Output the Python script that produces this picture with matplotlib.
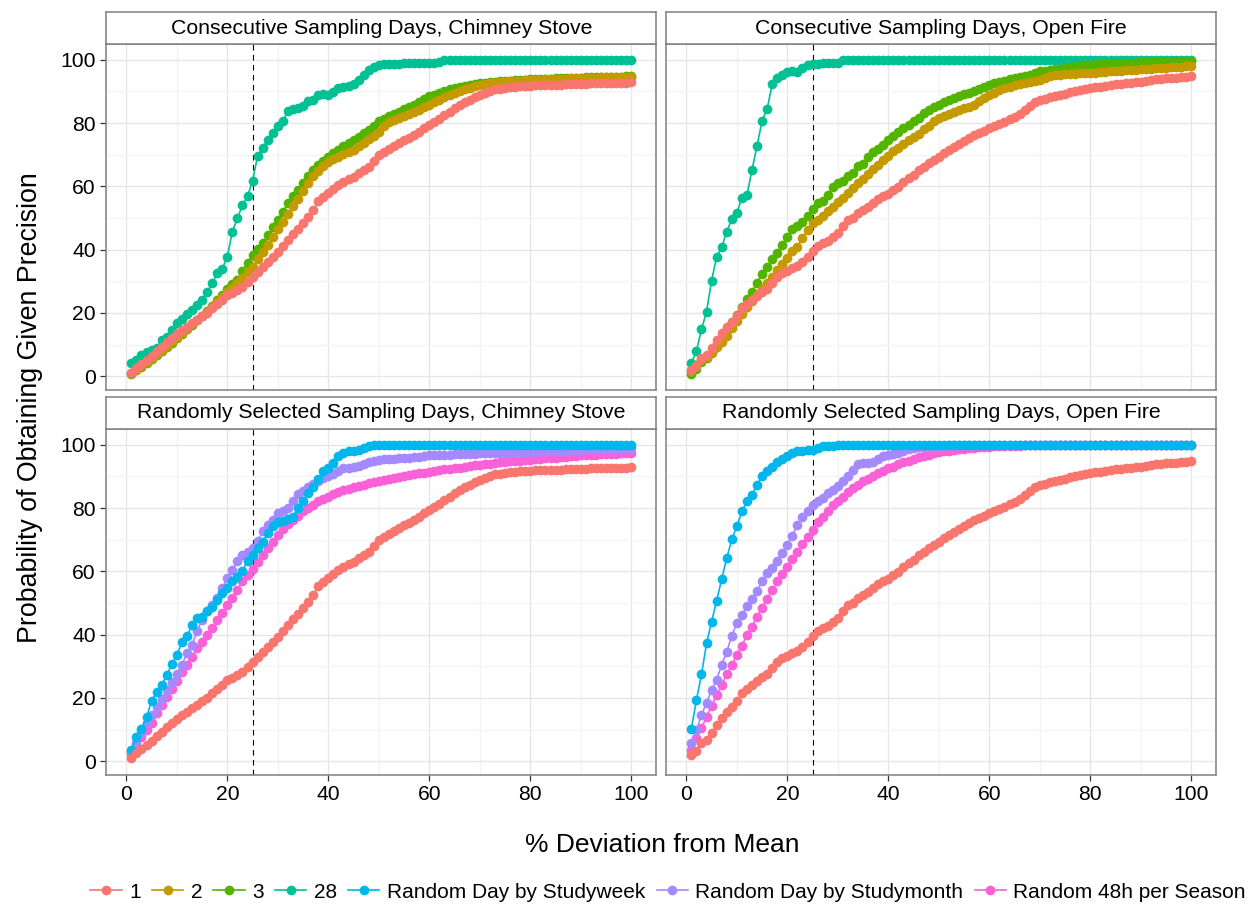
import matplotlib

matplotlib.use("Agg")
import matplotlib.pyplot as plt  # noqa: E402
from matplotlib.lines import Line2D  # noqa: E402

plt.rcParams["font.family"] = ["Liberation Sans", "DejaVu Sans"]

# % deviation from mean (x) shared by every series
deviation = list(range(1, 101))

# chimney stove, consecutive days
cs_1 = [1.1, 2.5, 3.9, 5.2, 6.5, 7.8, 9.3, 10.7, 12.0, 13.3,
        14.5, 15.6, 16.7, 17.8, 18.9, 20.1, 21.4, 22.8, 24.2, 25.6,
        26.4, 27.2, 28.1, 29.9, 31.4, 33.0, 34.6, 36.2, 37.8, 39.3,
        41.2, 43.0, 44.8, 46.6, 48.3, 50.4, 52.5, 55.2, 56.6, 57.8,
        59.1, 60.4, 61.3, 62.2, 63.0, 64.1, 65.2, 66.2, 68.1, 70.0,
        70.9, 71.8, 72.7, 73.6, 74.5, 75.4, 76.3, 77.2, 78.3, 79.4,
        80.4, 81.4, 82.5, 83.6, 84.7, 85.6, 86.5, 87.3, 88.1, 88.9,
        89.5, 90.1, 90.7, 90.9, 91.1, 91.3, 91.5, 91.6, 91.7, 91.8,
        91.9, 91.9, 92.0, 92.0, 92.1, 92.1, 92.2, 92.2, 92.3, 92.4,
        92.4, 92.5, 92.5, 92.6, 92.6, 92.7, 92.7, 92.8, 92.8, 92.9]
cs_2 = [0.9, 2.0, 3.2, 4.4, 5.7, 7.0, 8.3, 9.6, 11.0, 12.4,
        13.8, 15.2, 16.5, 17.8, 19.0, 20.4, 21.8, 23.3, 24.9, 26.5,
        28.0, 29.5, 31.0, 32.8, 34.6, 36.9, 39.2, 41.6, 44.0, 46.4,
        48.6, 51.2, 53.7, 56.0, 58.6, 61.0, 63.2, 64.8, 66.3, 67.6,
        68.5, 69.4, 70.2, 70.9, 71.6, 72.6, 73.7, 74.8, 76.0, 77.3,
        79.0, 80.3, 80.9, 81.5, 82.1, 82.8, 83.5, 84.2, 85.0, 85.7,
        86.5, 87.3, 88.1, 88.8, 89.5, 90.1, 90.7, 91.2, 91.6, 92.0,
        92.3, 92.6, 92.8, 93.0, 93.1, 93.2, 93.3, 93.4, 93.5, 93.6,
        93.7, 93.7, 93.8, 93.8, 93.9, 94.0, 94.0, 94.1, 94.1, 94.2,
        94.2, 94.3, 94.3, 94.4, 94.4, 94.4, 94.5, 94.5, 94.5, 94.6]
cs_3 = [0.8, 1.9, 3.0, 4.2, 5.4, 6.6, 7.9, 9.2, 10.6, 12.0,
        13.4, 14.8, 16.2, 17.6, 19.0, 20.6, 22.3, 24.0, 25.7, 27.5,
        29.0, 30.4, 33.2, 35.8, 38.3, 40.2, 42.0, 44.5, 47.0, 49.4,
        52.0, 54.6, 56.8, 58.9, 61.0, 63.1, 65.2, 66.6, 68.0, 69.4,
        70.5, 71.6, 72.6, 73.6, 74.7, 75.7, 76.8, 77.8, 79.2, 80.5,
        81.3, 82.1, 82.8, 83.5, 84.3, 85.0, 85.8, 86.6, 87.5, 88.4,
        89.0, 89.6, 90.1, 90.6, 91.0, 91.3, 91.6, 91.9, 92.2, 92.6,
        92.8, 93.0, 93.1, 93.2, 93.3, 93.4, 93.5, 93.6, 93.7, 93.8,
        93.9, 93.9, 94.0, 94.0, 94.1, 94.1, 94.2, 94.2, 94.3, 94.3,
        94.4, 94.4, 94.5, 94.5, 94.5, 94.6, 94.6, 94.6, 94.7, 94.7]
cs_28 = [4.2, 5.1, 6.6, 7.7, 8.2, 8.8, 11.4, 12.4, 14.6, 16.7,
         18.2, 19.8, 20.9, 22.5, 24.0, 26.7, 29.3, 32.5, 34.0, 37.8,
         45.7, 49.9, 54.1, 56.8, 61.8, 69.6, 72.0, 74.7, 77.0, 78.9,
         80.5, 83.9, 84.4, 84.7, 85.4, 86.8, 87.3, 88.9, 89.1, 88.9,
         89.7, 91.0, 91.4, 91.8, 92.3, 93.7, 95.3, 96.6, 97.7, 98.4,
         98.6, 98.7, 98.8, 98.8, 98.9, 98.9, 98.9, 98.9, 99.0, 99.0,
         99.1, 99.3, 100, 100, 100, 100, 100, 100, 100, 100,
         100, 100, 100, 100, 100, 100, 100, 100, 100, 100,
         100, 100, 100, 100, 100, 100, 100, 100, 100, 100,
         100, 100, 100, 100, 100, 100, 100, 100, 100, 100]

# open fire, consecutive days
of_1 = [2.1, 3.2, 5.6, 6.6, 9.0, 11.4, 13.5, 15.6, 17.2, 19.0,
        21.4, 22.8, 24.1, 25.3, 26.7, 27.7, 29.3, 31.4, 32.7, 33.3,
        34.1, 34.8, 36.2, 37.8, 39.6, 41.1, 42.0, 42.8, 43.9, 45.1,
        47.5, 49.4, 49.9, 51.7, 52.5, 53.6, 54.6, 55.9, 56.8, 57.6,
        58.9, 59.9, 61.5, 62.6, 63.6, 65.0, 66.2, 67.5, 68.4, 69.4,
        70.5, 71.6, 72.5, 73.3, 74.2, 75.3, 76.2, 76.9, 77.6, 78.4,
        79.1, 79.8, 80.4, 81.2, 82.0, 82.7, 84.0, 85.4, 86.5, 87.3,
        87.7, 88.2, 88.6, 88.9, 89.3, 89.7, 90.1, 90.5, 90.8, 91.0,
        91.3, 91.5, 91.8, 92.0, 92.2, 92.4, 92.5, 92.7, 92.9, 93.1,
        93.3, 93.6, 93.9, 94.0, 94.1, 94.2, 94.3, 94.4, 94.6, 94.7]
of_2 = [1.7, 3.5, 5.1, 6.1, 7.2, 9.1, 10.9, 12.7, 15.2, 17.5,
        19.8, 21.9, 23.8, 25.6, 27.4, 29.3, 31.4, 33.5, 35.4, 37.2,
        39.7, 40.9, 43.6, 46.2, 48.3, 49.4, 50.6, 52.3, 53.6, 54.9,
        56.2, 57.8, 59.4, 61.0, 62.2, 63.9, 65.4, 66.8, 68.4, 69.6,
        71.0, 72.0, 73.4, 74.5, 75.5, 76.6, 78.1, 79.1, 80.5, 81.5,
        82.2, 82.9, 83.5, 84.1, 84.7, 85.2, 85.7, 86.8, 87.9, 88.9,
        89.6, 90.3, 91.0, 91.5, 92.0, 92.4, 92.7, 93.0, 93.3, 93.7,
        94.2, 94.7, 95.2, 95.3, 95.4, 95.5, 95.6, 95.7, 95.7, 95.8,
        95.9, 96.0, 96.2, 96.3, 96.4, 96.5, 96.6, 96.7, 96.9, 97.0,
        97.1, 97.2, 97.3, 97.4, 97.5, 97.6, 97.7, 97.8, 98.0, 98.1]
of_3 = [0.6, 2.4, 4.5, 5.6, 7.7, 10.3, 12.4, 14.6, 17.2, 19.3,
        21.9, 24.3, 26.7, 29.5, 32.3, 34.6, 36.9, 39.0, 41.5, 44.1,
        46.5, 47.5, 48.8, 50.7, 52.7, 54.6, 55.2, 57.3, 59.9, 61.0,
        61.8, 63.1, 64.3, 66.5, 67.1, 69.2, 70.7, 71.7, 73.1, 74.7,
        75.9, 77.3, 78.4, 79.4, 80.5, 81.5, 83.1, 84.0, 85.0, 85.8,
        86.6, 87.3, 88.0, 88.6, 89.1, 89.6, 90.0, 90.6, 91.4, 92.1,
        92.6, 93.0, 93.4, 93.8, 94.1, 94.4, 94.8, 95.3, 95.8, 96.3,
        96.5, 96.8, 97.0, 97.2, 97.4, 97.7, 97.9, 98.0, 98.2, 98.4,
        98.5, 98.6, 98.7, 98.8, 98.9, 98.9, 99.0, 99.1, 99.1, 99.2,
        99.2, 99.3, 99.3, 99.3, 99.4, 99.4, 99.4, 99.5, 99.5, 99.5]
of_28 = [4.2, 7.9, 14.8, 20.4, 30.2, 37.8, 40.7, 45.7, 49.6, 51.5,
         56.4, 57.3, 65.2, 72.8, 80.7, 84.4, 92.3, 94.2, 95.3, 96.0,
         96.3, 96.2, 97.4, 98.2, 98.7, 98.8, 98.9, 98.9, 99.0, 99.0,
         100, 100, 100, 100, 100, 100, 100, 100, 100, 100,
         100, 100, 100, 100, 100, 100, 100, 100, 100, 100,
         100, 100, 100, 100, 100, 100, 100, 100, 100, 100,
         100, 100, 100, 100, 100, 100, 100, 100, 100, 100,
         100, 100, 100, 100, 100, 100, 100, 100, 100, 100,
         100, 100, 100, 100, 100, 100, 100, 100, 100, 100,
         100, 100, 100, 100, 100, 100, 100, 100, 100, 100]

# chimney stove, randomly selected days
cs_week = [3.5, 7.7, 10.3, 14.0, 19.0, 21.9, 24.1, 27.2, 30.6, 33.5,
           37.6, 39.4, 43.0, 45.1, 45.7, 47.3, 48.8, 50.9, 53.1, 54.6,
           56.8, 58.3, 60.1, 63.3, 65.0, 67.3, 69.4, 72.0, 74.2, 75.5,
           75.9, 76.6, 77.3, 80.0, 82.1, 84.7, 86.5, 89.2, 91.8, 92.6,
           94.2, 96.3, 97.4, 97.9, 97.9, 98.4, 98.9, 99.5, 100, 100,
           100, 100, 100, 100, 100, 100, 100, 100, 100, 100,
           100, 100, 100, 100, 100, 100, 100, 100, 100, 100,
           100, 100, 100, 100, 100, 100, 100, 100, 100, 100,
           100, 100, 100, 100, 100, 100, 100, 100, 100, 100,
           100, 100, 100, 100, 100, 100, 100, 100, 100, 100]
cs_month = [3.0, 5.6, 9.3, 12.2, 14.6, 17.2, 19.8, 22.5, 24.9, 27.7,
            30.4, 34.1, 36.7, 41.1, 44.6, 47.3, 49.2, 51.7, 54.6, 57.8,
            60.4, 63.3, 65.2, 66.2, 67.5, 69.6, 72.6, 74.7, 76.3, 78.4,
            79.1, 80.0, 82.1, 84.4, 85.4, 86.5, 87.6, 88.4, 89.5, 90.0,
            90.7, 91.6, 92.6, 92.8, 93.1, 93.4, 93.9, 94.5, 94.9, 95.3,
            95.4, 95.5, 95.6, 95.7, 95.8, 95.9, 96.0, 96.2, 96.4, 96.6,
            96.7, 96.7, 96.8, 96.9, 97.0, 97.0, 97.1, 97.2, 97.2, 97.3,
            97.3, 97.4, 97.4, 97.5, 97.5, 97.5, 97.6, 97.6, 97.7, 97.7,
            97.8, 97.9, 97.9, 98.0, 98.1, 98.1, 98.2, 98.3, 98.3, 98.4,
            98.5, 98.5, 98.6, 98.6, 98.7, 98.7, 98.8, 98.8, 98.9, 98.9]
cs_48h = [2.4, 5.1, 7.7, 9.8, 12.2, 15.1, 17.9, 20.4, 22.8, 25.3,
          28.1, 30.4, 33.0, 35.7, 37.6, 39.9, 42.2, 44.6, 46.7, 49.4,
          51.5, 54.1, 56.8, 58.9, 60.8, 62.9, 65.2, 67.3, 69.4, 71.5,
          73.4, 74.9, 76.3, 77.6, 78.9, 80.0, 81.0, 82.1, 82.9, 83.6,
          84.4, 85.0, 85.6, 86.1, 86.6, 87.0, 87.4, 87.8, 88.2, 88.6,
          88.9, 89.2, 89.5, 89.8, 90.1, 90.4, 90.7, 91.0, 91.2, 91.4,
          91.7, 91.9, 92.2, 92.4, 92.6, 92.8, 93.1, 93.3, 93.5, 93.7,
          93.9, 94.0, 94.2, 94.4, 94.5, 94.7, 94.8, 95.0, 95.1, 95.3,
          95.4, 95.5, 95.7, 95.8, 95.9, 96.0, 96.1, 96.3, 96.4, 96.6,
          96.7, 96.8, 96.9, 97.0, 97.1, 97.1, 97.2, 97.3, 97.3, 97.4]

# open fire, randomly selected days
of_week = [10.3, 19.3, 27.4, 37.2, 44.1, 50.7, 57.6, 64.1, 70.1, 74.2,
           78.9, 82.1, 84.2, 87.3, 90.0, 91.6, 93.1, 94.5, 95.6, 96.3,
           97.4, 97.9, 98.1, 98.2, 98.4, 98.9, 99.5, 99.6, 99.7, 99.8,
           99.8, 99.9, 99.9, 100, 100, 100, 100, 100, 100, 100,
           100, 100, 100, 100, 100, 100, 100, 100, 100, 100,
           100, 100, 100, 100, 100, 100, 100, 100, 100, 100,
           100, 100, 100, 100, 100, 100, 100, 100, 100, 100,
           100, 100, 100, 100, 100, 100, 100, 100, 100, 100,
           100, 100, 100, 100, 100, 100, 100, 100, 100, 100,
           100, 100, 100, 100, 100, 100, 100, 100, 100, 100]
of_month = [5.6, 9.8, 14.6, 18.5, 22.5, 25.8, 30.4, 34.6, 39.6, 43.6,
            46.2, 49.1, 51.3, 53.8, 56.8, 59.4, 61.2, 63.3, 65.7, 68.4,
            71.3, 74.7, 77.3, 78.9, 81.0, 82.3, 83.3, 84.7, 85.7, 87.1,
            88.6, 90.0, 92.1, 93.9, 94.2, 94.2, 94.5, 95.6, 96.3, 96.6,
            97.0, 97.4, 98.1, 98.7, 98.9, 99.2, 99.3, 99.5, 99.6, 99.7,
            99.7, 99.8, 99.8, 99.9, 99.9, 100, 100, 100, 100, 100,
            100, 100, 100, 100, 100, 100, 100, 100, 100, 100,
            100, 100, 100, 100, 100, 100, 100, 100, 100, 100,
            100, 100, 100, 100, 100, 100, 100, 100, 100, 100,
            100, 100, 100, 100, 100, 100, 100, 100, 100, 100]
of_48h = [3.5, 7.2, 10.5, 14.0, 17.5, 20.9, 24.1, 27.4, 30.4, 33.5,
          36.5, 39.9, 42.5, 45.7, 48.5, 51.3, 54.1, 56.8, 59.1, 61.5,
          63.9, 66.2, 68.6, 70.7, 73.1, 75.5, 77.3, 79.1, 80.8, 82.3,
          83.6, 85.0, 86.3, 87.3, 88.4, 89.2, 90.1, 91.0, 91.8, 92.6,
          93.1, 93.9, 94.5, 94.9, 95.6, 96.0, 96.4, 96.8, 97.3, 97.6,
          97.9, 98.1, 98.4, 98.6, 98.8, 98.9, 99.1, 99.2, 99.3, 99.4,
          99.5, 99.5, 99.6, 99.6, 99.7, 99.7, 99.8, 99.8, 99.9, 99.9,
          100, 100, 100, 100, 100, 100, 100, 100, 100, 100,
          100, 100, 100, 100, 100, 100, 100, 100, 100, 100,
          100, 100, 100, 100, 100, 100, 100, 100, 100, 100]

series_labels = ["1", "2", "3", "28", "Random Day by Studyweek",
                 "Random Day by Studymonth", "Random 48h per Season"]
series_colors = ["#F8766D", "#C49A00", "#53B400", "#00C094",
                 "#00B6EB", "#A58AFF", "#FB61D7"]
color_of = dict(zip(series_labels, series_colors))

panel_titles = ["Consecutive Sampling Days, Chimney Stove",
                "Consecutive Sampling Days, Open Fire",
                "Randomly Selected Sampling Days, Chimney Stove",
                "Randomly Selected Sampling Days, Open Fire"]
panel_series = [
    {"1": cs_1, "2": cs_2, "3": cs_3, "28": cs_28},
    {"1": of_1, "2": of_2, "3": of_3, "28": of_28},
    {"1": cs_1, "Random Day by Studyweek": cs_week,
     "Random Day by Studymonth": cs_month, "Random 48h per Season": cs_48h},
    {"1": of_1, "Random Day by Studyweek": of_week,
     "Random Day by Studymonth": of_month, "Random 48h per Season": of_48h},
]

W, H = 1253, 907
fig = plt.figure(figsize=(W / 100, H / 100), dpi=100)

# panel boxes in pixels: (left, top, right, bottom)
lefts = [106.4, 666.4]
rights = [656.3, 1216.3]
tops = [44.0, 429.0]
bottoms = [390.0, 775.0]
strip_h = 32.0

border = "#7f7f7f"
for i, (title, series) in enumerate(zip(panel_titles, panel_series)):
    row, col = divmod(i, 2)
    l, r, t, b = lefts[col], rights[col], tops[row], bottoms[row]
    ax = fig.add_axes([l / W, 1 - b / H, (r - l) / W, (b - t) / H])
    ax.set_xlim(-3.95, 104.95)
    ax.set_ylim(-4.37, 104.97)
    ax.set_xticks(range(0, 101, 20))
    ax.set_yticks(range(0, 101, 20))
    ax.set_xticks(range(10, 100, 20), minor=True)
    ax.set_yticks(range(10, 100, 20), minor=True)
    ax.grid(True, which="major", color="#e6e6e6", linewidth=1.0, zorder=0)
    ax.grid(True, which="minor", color="#f4f4f4", linewidth=1.0, zorder=0)
    ax.set_axisbelow(True)
    for sp in ax.spines.values():
        sp.set_color(border)
        sp.set_linewidth(1.1)
    ax.tick_params(which="minor", length=0)
    ax.tick_params(which="major", length=4.5, width=0.9, color="#333333",
                   labelsize=15.2, labelcolor="black", pad=3)
    if row == 0:
        ax.tick_params(axis="x", length=0, labelbottom=False)
    if col == 1:
        ax.tick_params(axis="y", length=0, labelleft=False)

    ax.axvline(25, color="black", linewidth=0.8, linestyle=(0, (5, 4)), zorder=1)

    # later legend levels drawn first so "1" sits on top
    for name in reversed(series_labels):
        if name in series:
            ax.plot(deviation, series[name], color=color_of[name], linewidth=1.2,
                    marker="o", markersize=7.0, markeredgewidth=0, zorder=2)

    sax = fig.add_axes([l / W, 1 - t / H, (r - l) / W, strip_h / H])
    sax.set_xticks([])
    sax.set_yticks([])
    sax.set_facecolor("white")
    for sp in sax.spines.values():
        sp.set_color(border)
        sp.set_linewidth(1.1)
    sax.text(0.5, 0.5, title, ha="center", va="center", fontsize=15.3,
             transform=sax.transAxes)

fig.text(662 / W, 1 - 845 / H, "% Deviation from Mean", ha="center", va="center",
         fontsize=19)
fig.text(30 / W, 1 - 408 / H, "Probability of Obtaining Given Precision", ha="center",
         va="center", rotation=90, fontsize=19.3)

handles = [Line2D([], [], color=c, linewidth=1.2, marker="o", markersize=7.0,
                  markeredgewidth=0) for c in series_colors]
fig.legend(handles, series_labels, loc="center", bbox_to_anchor=(668 / W, 1 - 892 / H),
           ncol=7, frameon=False, fontsize=15, handlelength=1.5, handletextpad=0.35,
           columnspacing=0.55, borderaxespad=0, borderpad=0)

fig.savefig("out.png", dpi=100)
